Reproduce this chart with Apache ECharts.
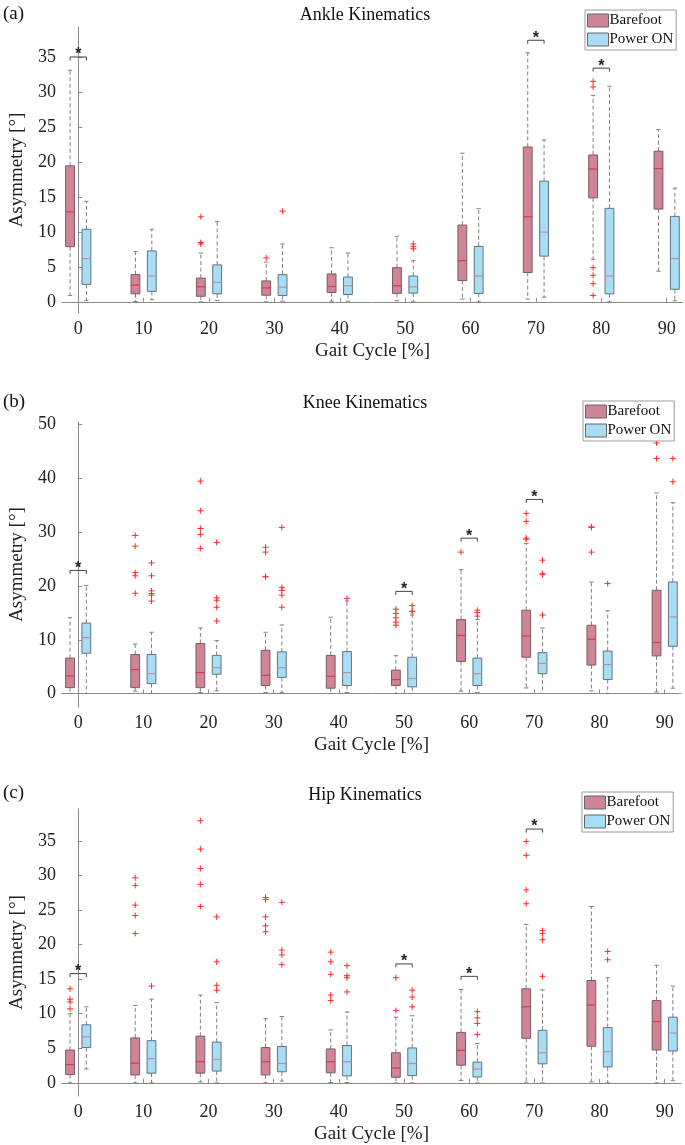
<!DOCTYPE html>
<html>
<head>
<meta charset="utf-8">
<script src="https://cdn.jsdelivr.net/npm/echarts@6/dist/echarts.min.js"></script>
<style>html,body{margin:0;padding:0;background:#fff}#c{width:685px;height:1145px}</style>
</head>
<body>
<div id="c"></div>
<script>
// ---------- data ----------
const gaitCycle = [0, 10, 20, 30, 40, 50, 60, 70, 80, 90];
const panelTitles = ['Ankle Kinematics', 'Knee Kinematics', 'Hip Kinematics'];
const panelLetters = ['(a)', '(b)', '(c)'];
const seriesNames = ['Barefoot', 'Power ON'];
const xTickLabels = [0, 10, 20, 30, 40, 50, 60, 70, 80, 90];
const yTicksAnkle = [0, 5, 10, 15, 20, 25, 30, 35];
const yTicksKnee = [0, 10, 20, 30, 40, 50];
const yTicksHip = [0, 5, 10, 15, 20, 25, 30, 35];

// each box: [whiskerLow, Q1, median, Q3, whiskerHigh]
const ankleBarefoot = [
  [0.9, 7.9, 12.9, 19.5, 33.2], [0.05, 1.15, 2.4, 3.9, 7.2], [0, 0.8, 2.15, 3.4, 7.0],
  [0, 0.95, 2.0, 3.0, 5.7], [0.1, 1.35, 2.2, 4.0, 7.75], [0.15, 1.2, 2.3, 4.9, 9.4],
  [0.4, 3.05, 5.9, 11.0, 21.3], [0.4, 4.2, 12.2, 22.2, 35.7], [6.1, 14.9, 19.05, 21.05, 29.6],
  [4.4, 13.3, 19.1, 21.6, 24.7]
];
const anklePowerOn = [
  [0.2, 2.5, 6.2, 10.4, 14.4], [0.3, 1.5, 3.7, 7.3, 10.4], [0.2, 1.15, 2.8, 5.3, 11.5],
  [0.1, 0.9, 2.1, 3.9, 8.3], [0.1, 1.05, 2.3, 3.55, 7.0], [0, 1.25, 2.15, 3.7, 5.9],
  [0, 1.2, 3.7, 7.95, 13.35], [0.67, 6.55, 10.0, 17.3, 23.2], [0, 1.15, 3.7, 13.4, 30.9],
  [0.15, 1.8, 6.2, 12.25, 16.3]
];
const ankleBarefootOutliers = [[], [], [12.2, 8.5, 8.3], [6.3], [], [], [], [], [31.6, 30.8, 4.9, 3.8, 2.6, 0.9], []];
const anklePowerOnOutliers = [[], [], [], [13.0], [], [8.3, 7.9, 7.6], [], [], [], []];
const ankleSignificance = [[0, 35.1], [70, 37.5], [80, 33.5]];

const kneeBarefoot = [
  [0, 1.1, 3.3, 6.6, 14.1], [0.45, 1.1, 4.45, 7.25, 9.2], [0.2, 1.1, 3.9, 9.3, 12.2],
  [0.2, 1.5, 3.4, 8.05, 11.4], [0, 1.0, 3.2, 7.1, 14.2], [0, 1.5, 2.6, 4.35, 7.05],
  [0.45, 5.95, 10.8, 13.75, 23.05], [1.05, 6.75, 10.7, 15.5, 27.9], [0.5, 5.3, 10.1, 12.7, 20.75],
  [0.3, 7.0, 9.5, 19.2, 37.3]
];
const kneePowerOn = [
  [0, 7.5, 10.4, 13.1, 20.1], [0, 1.85, 3.7, 7.25, 11.4], [0.5, 3.6, 4.8, 7.1, 9.85],
  [0.2, 3.0, 4.8, 7.75, 12.75], [0.2, 1.5, 3.9, 7.8, 17.2], [0, 1.25, 2.8, 6.75, 14.6],
  [0.2, 1.5, 3.7, 6.6, 13.75], [0, 3.7, 5.6, 7.6, 12.2], [0, 2.6, 5.4, 7.9, 15.4],
  [1.0, 8.8, 14.25, 20.75, 35.5]
];
const kneeBarefootOutliers = [[], [29.4, 27.4, 22.5, 21.9, 18.65], [39.5, 34.0, 30.7, 29.6, 27.0],
  [27.2, 26.3, 21.8, 21.7], [], [15.7, 14.9, 14.1, 13.3, 12.7], [26.3], [33.5, 32.0, 28.9, 28.7],
  [31.0, 30.9, 26.3], [46.6, 43.7]];
const kneePowerOnOutliers = [[], [24.3, 21.9, 19.1, 18.6, 18.3, 17.2], [28.1, 17.8, 17.35, 16.05, 13.5],
  [30.9, 19.75, 19.2, 18.3, 16.05], [17.7], [16.35, 15.3, 15.25], [15.5, 15.05, 14.4],
  [24.8, 22.3, 22.1, 14.6], [20.45], [43.7, 39.4]];
const kneeSignificance = [[0, 22.9], [50, 19.0], [60, 28.9], [70, 36.1]];

const hipBarefoot = [
  [0, 1.2, 2.65, 4.75, 10.0], [0, 1.15, 2.85, 6.5, 11.2], [0.15, 1.4, 3.05, 6.75, 12.7],
  [0, 1.15, 3.05, 5.1, 9.3], [0.05, 1.45, 3.05, 4.9, 7.65], [0, 0.8, 2.15, 4.35, 9.5],
  [0.35, 2.55, 4.7, 7.3, 13.5], [0.1, 6.45, 11.0, 13.6, 22.9], [0.15, 5.3, 11.25, 14.8, 25.5],
  [0, 4.75, 8.85, 11.9, 17.0]
];
const hipPowerOn = [
  [2.0, 5.1, 6.65, 8.4, 11.0], [0, 1.4, 3.5, 6.1, 12.1], [0, 1.7, 3.4, 5.9, 11.6],
  [0.25, 1.6, 2.8, 5.25, 9.6], [0.05, 1.0, 3.05, 5.4, 10.25], [0, 1.05, 2.8, 5.05, 9.7],
  [0, 0.85, 2.0, 3.0, 5.7], [0, 2.75, 4.35, 7.6, 13.45], [0, 2.3, 4.5, 8.0, 15.2],
  [0.3, 4.6, 7.2, 9.5, 14.0]
];
const hipBarefootOutliers = [[13.6, 12.1, 11.7, 10.7], [29.65, 28.55, 25.7, 24.2, 21.6],
  [37.9, 33.8, 31.0, 28.7, 25.5], [26.8, 26.5, 24.0, 22.7, 21.85], [18.9, 17.5, 15.7, 12.7, 11.9],
  [15.2, 10.45], [], [34.9, 32.9, 27.9, 25.9], [], []];
const hipPowerOnOutliers = [[], [14.0], [24.0, 17.5, 14.1, 13.4], [26.1, 19.2, 18.5, 17.1],
  [16.95, 15.5, 15.2, 13.15], [13.4, 12.4, 11.0], [10.3, 9.4, 8.6, 7.0], [22.0, 21.6, 20.7, 15.4],
  [19.0, 17.8], []];
const hipSignificance = [[0, 15.8], [50, 17.2], [60, 15.4], [70, 36.7]];

// ---------- styling / layout ----------
const FONT = "'Liberation Serif','Times New Roman',serif";
const OFF = 1.25;      // group offset in x units
const BOX_W = 1.35;    // box width in x units
const BF = {fill: '#CF8595', border: '#7a5a62', median: '#d8394f'};
const PO = {fill: '#A9DDF3', border: '#5d7482', median: '#b78fb0'};

const panels = [
  {bf: ankleBarefoot, po: anklePowerOn, bfo: ankleBarefootOutliers, poo: anklePowerOnOutliers, sig: ankleSignificance,
   yTicks: yTicksAnkle, ymin: -1.6, ymax: 39.4, grid: {left: 49, top: 27, width: 634, height: 286}, legendTop: 10, legendLeft: 585, titleY: 15, letterY: 14},
  {bf: kneeBarefoot, po: kneePowerOn, bfo: kneeBarefootOutliers, poo: kneePowerOnOutliers, sig: kneeSignificance,
   yTicks: yTicksKnee, ymin: -2.5, ymax: 50.5, grid: {left: 47, top: 422, width: 634, height: 285}, legendTop: 401, legendLeft: 583, titleY: 403, letterY: 402},
  {bf: hipBarefoot, po: hipPowerOn, bfo: hipBarefootOutliers, poo: hipPowerOnOutliers, sig: hipSignificance,
   yTicks: yTicksHip, ymin: -1.9, ymax: 39.6, grid: {left: 46, top: 809, width: 635, height: 288}, legendTop: 792, legendLeft: 582, titleY: 795, letterY: 793}
];

function boxRenderer(off, col) {
  return function (params, api) {
    const x = api.value(0) + off;
    const lo = api.coord([x, api.value(1)]);
    const q1 = api.coord([x, api.value(2)]);
    const md = api.coord([x, api.value(3)]);
    const q3 = api.coord([x, api.value(4)]);
    const hi = api.coord([x, api.value(5)]);
    const hw = api.size([BOX_W, 0])[0] / 2;
    const cx = q1[0];
    const cap = 2.2;
    const dash = {stroke: '#808080', lineWidth: 1, lineDash: [4, 2.5], fill: null};
    const solid = {stroke: '#808080', lineWidth: 1, fill: null};
    return {
      type: 'group',
      children: [
        {type: 'line', shape: {x1: cx, y1: q3[1], x2: cx, y2: hi[1]}, style: dash},
        {type: 'line', shape: {x1: cx, y1: q1[1], x2: cx, y2: lo[1]}, style: dash},
        {type: 'line', shape: {x1: cx - cap, y1: hi[1], x2: cx + cap, y2: hi[1]}, style: solid},
        {type: 'line', shape: {x1: cx - cap, y1: lo[1], x2: cx + cap, y2: lo[1]}, style: solid},
        {type: 'rect', shape: {x: cx - hw, y: q3[1], width: 2 * hw, height: q1[1] - q3[1]},
         style: {fill: col.fill, stroke: col.border, lineWidth: 1}},
        {type: 'line', shape: {x1: cx - hw, y1: md[1], x2: cx + hw, y2: md[1]}, style: {stroke: col.median, lineWidth: 1.2}}
      ]
    };
  };
}

function outlierRenderer(off) {
  return function (params, api) {
    const p = api.coord([api.value(0) + off, api.value(1)]);
    const a = 3;
    const st = {stroke: '#ff2a2a', lineWidth: 1, fill: null};
    return {type: 'group', children: [
      {type: 'line', shape: {x1: p[0] - a, y1: p[1], x2: p[0] + a, y2: p[1]}, style: st},
      {type: 'line', shape: {x1: p[0], y1: p[1] - a, x2: p[0], y2: p[1] + a}, style: st}
    ]};
  };
}

function sigRenderer(params, api) {
  const x = api.value(0), y = api.value(1);
  const l = api.coord([x - OFF, y]);
  const r = api.coord([x + OFF, y]);
  const t = 3.5;
  return {type: 'group', children: [
    {type: 'polyline', shape: {points: [[l[0], l[1] + t], [l[0], l[1]], [r[0], r[1]], [r[0], r[1] + t]]},
     style: {stroke: '#444', lineWidth: 1, fill: null}},
    {type: 'text', x: (l[0] + r[0]) / 2, y: l[1] + 6,
     style: {text: '*', font: "bold 16px 'Liberation Sans',sans-serif", fill: '#222', align: 'center', verticalAlign: 'bottom'}}
  ]};
}

const grids = [], xAxes = [], yAxes = [], series = [], legends = [], graphics = [];
panels.forEach((p, i) => {
  grids.push(p.grid);
  xAxes.push({
    type: 'value', gridIndex: i, min: -2.5, max: 92.5,
    name: 'Gait Cycle [%]', nameLocation: 'middle', nameGap: 29,
    nameTextStyle: {fontFamily: FONT, fontSize: 19, color: '#222'},
    axisLine: {show: true, lineStyle: {color: '#8a8a8a', width: 1}},
    axisTick: {show: true, inside: true, length: 4, customValues: xTickLabels, lineStyle: {color: '#8a8a8a'}},
    axisLabel: {customValues: xTickLabels, fontFamily: FONT, fontSize: 18, color: '#222', margin: 7},
    splitLine: {show: false}
  });
  yAxes.push({
    type: 'value', gridIndex: i, min: p.ymin, max: p.ymax,
    name: 'Asymmetry [°]', nameLocation: 'middle', nameGap: 25, nameRotate: 90,
    nameTextStyle: {fontFamily: FONT, fontSize: 19, color: '#222'},
    axisLine: {show: true, lineStyle: {color: '#8a8a8a', width: 1}},
    axisTick: {show: true, inside: true, length: 4, customValues: p.yTicks, lineStyle: {color: '#8a8a8a'}},
    axisLabel: {customValues: p.yTicks, fontFamily: FONT, fontSize: 18, color: '#222', margin: 6},
    splitLine: {show: false}
  });
  const mk = arr => arr.map((d, k) => [gaitCycle[k]].concat(d));
  series.push({
    name: seriesNames[0], type: 'custom', xAxisIndex: i, yAxisIndex: i,
    itemStyle: {color: BF.fill, borderColor: BF.border},
    encode: {x: 0, y: [1, 2, 3, 4, 5]}, data: mk(p.bf), renderItem: boxRenderer(-OFF, BF), silent: true
  });
  series.push({
    name: seriesNames[1], type: 'custom', xAxisIndex: i, yAxisIndex: i,
    itemStyle: {color: PO.fill, borderColor: PO.border},
    encode: {x: 0, y: [1, 2, 3, 4, 5]}, data: mk(p.po), renderItem: boxRenderer(OFF, PO), silent: true
  });
  const flat = arr => { const out = []; arr.forEach((vals, k) => vals.forEach(v => out.push([gaitCycle[k], v]))); return out; };
  series.push({name: 'outBF' + i, type: 'custom', xAxisIndex: i, yAxisIndex: i, encode: {x: 0, y: 1},
    data: flat(p.bfo), renderItem: outlierRenderer(-OFF), silent: true});
  series.push({name: 'outPO' + i, type: 'custom', xAxisIndex: i, yAxisIndex: i, encode: {x: 0, y: 1},
    data: flat(p.poo), renderItem: outlierRenderer(OFF), silent: true});
  series.push({name: 'sig' + i, type: 'custom', xAxisIndex: i, yAxisIndex: i, encode: {x: 0, y: 1},
    data: p.sig, renderItem: sigRenderer, silent: true});
  legends.push({
    data: seriesNames, orient: 'vertical', left: p.legendLeft, top: p.legendTop,
    itemWidth: 21, itemHeight: 13, itemGap: 4, icon: 'rect', selectedMode: false,
    padding: [3, 3, 3, 2], borderColor: '#9a9a9a', borderWidth: 1, backgroundColor: '#fff',
    itemStyle: {borderColor: '#666', borderWidth: 1},
    textStyle: {fontFamily: FONT, fontSize: 15, color: '#111', padding: [0, 0, 0, -4]}
  });
  graphics.push({type: 'text', x: 365, y: p.titleY,
    style: {text: panelTitles[i], font: "18px " + FONT, fill: '#111', align: 'center', verticalAlign: 'middle'}});
  graphics.push({type: 'text', x: 3, y: p.letterY,
    style: {text: panelLetters[i], font: "19px " + FONT, fill: '#111', align: 'left', verticalAlign: 'middle'}});
});

const chart = echarts.init(document.getElementById('c'), null, {renderer: 'canvas'});
chart.setOption({
  backgroundColor: '#fff',
  animation: false,
  grid: grids, xAxis: xAxes, yAxis: yAxes, series: series, legend: legends, graphic: graphics
});
</script>
</body>
</html>
